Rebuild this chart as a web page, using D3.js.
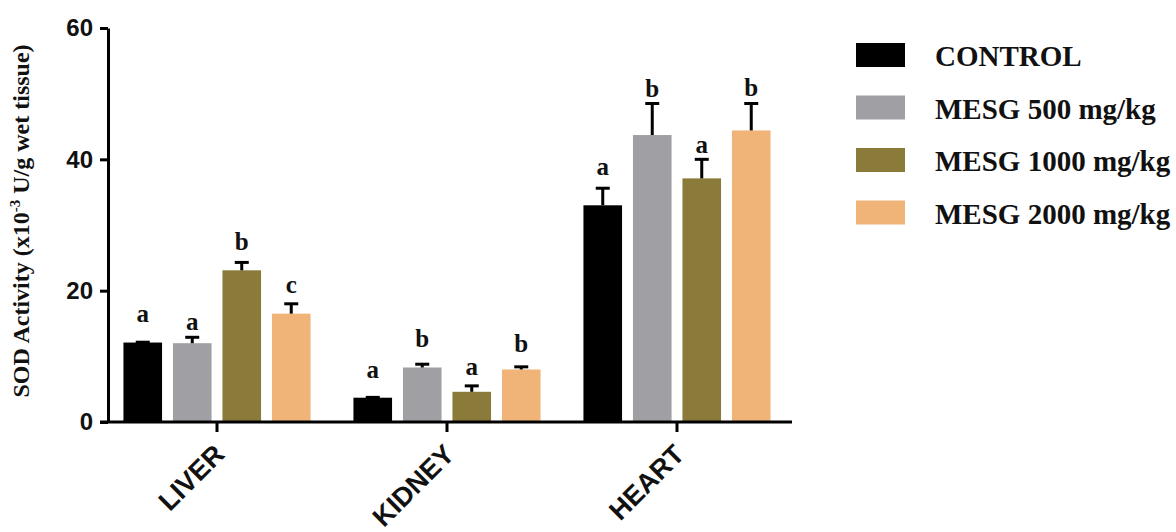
<!DOCTYPE html>
<html>
<head>
<meta charset="utf-8">
<script src="https://cdn.jsdelivr.net/npm/d3@7"></script>
<style>
  html, body { margin: 0; padding: 0; background: #fff; }
  svg { display: block; }
</style>
</head>
<body>
<svg id="chart" width="1176" height="532"></svg>
<script>
// Tissue groups along the x axis
const tissues = ["LIVER", "KIDNEY", "HEART"];
// Treatment groups (series)
const groups = ["CONTROL", "MESG 500 mg/kg", "MESG 1000 mg/kg", "MESG 2000 mg/kg"];
const groupColors = ["#000000", "#a0a0a4", "#8b7b3a", "#f1b478"];

// Mean SOD activity per tissue, one value per treatment group
const liverMean  = [12.1, 12.0, 23.1, 16.5];
const kidneyMean = [3.7, 8.3, 4.6, 8.0];
const heartMean  = [33.0, 43.7, 37.1, 44.4];

// Upper error (SEM) per tissue
const liverErr  = [0.05, 0.9, 1.2, 1.5];
const kidneyErr = [0.05, 0.5, 0.9, 0.4];
const heartErr  = [2.6, 4.8, 2.9, 4.1];

// Significance letters and the value level where each sits
const liverLetters  = ["a", "a", "b", "c"];
const kidneyLetters = ["a", "b", "a", "b"];
const heartLetters  = ["a", "b", "a", "b"];
const liverLetterLevel  = [15.3, 14.0, 26.2, 19.6];
const kidneyLetterLevel = [6.7, 11.4, 7.2, 10.7];
const heartLetterLevel  = [37.6, 49.5, 41.0, 49.6];

const yTicks = [0, 20, 40, 60];

const means = [liverMean, kidneyMean, heartMean];
const errs = [liverErr, kidneyErr, heartErr];
const letters = [liverLetters, kidneyLetters, heartLetters];
const letterLevels = [liverLetterLevel, kidneyLetterLevel, heartLetterLevel];

const rows = [];
tissues.forEach((t, ti) => {
  groups.forEach((g, gi) => {
    rows.push({
      tissue: t, group: g, gi,
      mean: means[ti][gi], err: errs[ti][gi],
      letter: letters[ti][gi], level: letterLevels[ti][gi]
    });
  });
});

const svg = d3.select("#chart");

const y = d3.scaleLinear().domain([0, 60]).range([422, 28]);
const x = d3.scaleBand().domain(tissues).range([102, 792]).padding(0);
const xInner = d3.scaleBand().domain(groups).range([-99, 99])
  .paddingInner(0.22).paddingOuter(0.11);
const color = d3.scaleOrdinal().domain(groups).range(groupColors);

const sans = "'Liberation Sans', Arial, Helvetica, sans-serif";
const serif = "'Liberation Serif', 'Times New Roman', Times, serif";

// Bars
const barG = svg.append("g");
barG.selectAll("rect")
  .data(rows)
  .join("rect")
  .attr("x", d => x(d.tissue) + x.bandwidth() / 2 + xInner(d.group))
  .attr("width", xInner.bandwidth())
  .attr("y", d => y(d.mean))
  .attr("height", d => y(0) - y(d.mean))
  .attr("fill", d => color(d.group));

// Error bars (upper only)
const errG = svg.append("g").attr("stroke", "#000").attr("stroke-width", 3);
const cx = d => x(d.tissue) + x.bandwidth() / 2 + xInner(d.group) + xInner.bandwidth() / 2;
errG.selectAll("line.stem")
  .data(rows)
  .join("line")
  .attr("class", "stem")
  .attr("x1", cx).attr("x2", cx)
  .attr("y1", d => y(d.mean))
  .attr("y2", d => y(d.mean + d.err));
errG.selectAll("line.cap")
  .data(rows)
  .join("line")
  .attr("class", "cap")
  .attr("x1", d => cx(d) - 7).attr("x2", d => cx(d) + 7)
  .attr("y1", d => y(d.mean + d.err))
  .attr("y2", d => y(d.mean + d.err));

// Significance letters
svg.append("g").selectAll("text")
  .data(rows)
  .join("text")
  .attr("x", cx)
  .attr("y", d => y(d.level))
  .attr("text-anchor", "middle")
  .attr("font-family", serif)
  .attr("font-weight", "bold")
  .attr("font-size", 25)
  .attr("fill", "#111")
  .text(d => d.letter);

// Y axis
const yAxis = svg.append("g")
  .attr("transform", "translate(108,0)")
  .call(d3.axisLeft(y).tickValues(yTicks).tickSize(8).tickPadding(7).tickSizeOuter(0));
yAxis.select(".domain").attr("stroke", "#000").attr("stroke-width", 3);
yAxis.selectAll(".tick line").attr("stroke", "#000").attr("stroke-width", 3);
yAxis.selectAll(".tick text")
  .attr("font-family", sans)
  .attr("font-weight", "bold")
  .attr("font-size", 24)
  .attr("fill", "#111");

// X axis
const xAxis = svg.append("g")
  .attr("transform", "translate(0,422)")
  .call(d3.axisBottom(x).tickSize(10).tickSizeOuter(0));
xAxis.select(".domain").attr("stroke", "#000").attr("stroke-width", 3)
  .attr("d", `M100,0H792`);
xAxis.selectAll(".tick line").attr("stroke", "#000").attr("stroke-width", 3);
xAxis.selectAll(".tick text")
  .attr("font-family", sans)
  .attr("font-weight", "bold")
  .attr("font-size", 27)
  .attr("fill", "#111")
  .attr("text-anchor", "end")
  .attr("dy", null)
  .attr("y", null)
  .attr("transform", "translate(9,34) rotate(-45)");

// Y axis title
const yTitle = svg.append("text")
  .attr("transform", "translate(29,221) rotate(-90)")
  .attr("text-anchor", "middle")
  .attr("font-family", serif)
  .attr("font-weight", "bold")
  .attr("font-size", 24)
  .attr("fill", "#111");
yTitle.append("tspan").text("SOD Activity (x10");
yTitle.append("tspan").attr("font-size", 15).attr("dy", -9).text("-3");
yTitle.append("tspan").attr("dy", 9).text(" U/g wet tissue)");

// Legend
const legend = svg.append("g").attr("transform", "translate(856,0)");
const legendRow = d3.scaleLinear().domain([0, 1]).range([55, 107.5]);
const items = legend.selectAll("g")
  .data(groups)
  .join("g")
  .attr("transform", (d, i) => `translate(0,${legendRow(i)})`);
items.append("rect")
  .attr("x", 0).attr("y", -12)
  .attr("width", 49).attr("height", 24)
  .attr("fill", d => color(d));
items.append("text")
  .attr("x", 79).attr("y", 11)
  .attr("font-family", serif)
  .attr("font-weight", "bold")
  .attr("font-size", 29)
  .attr("fill", "#111")
  .text(d => d);
</script>
</body>
</html>
